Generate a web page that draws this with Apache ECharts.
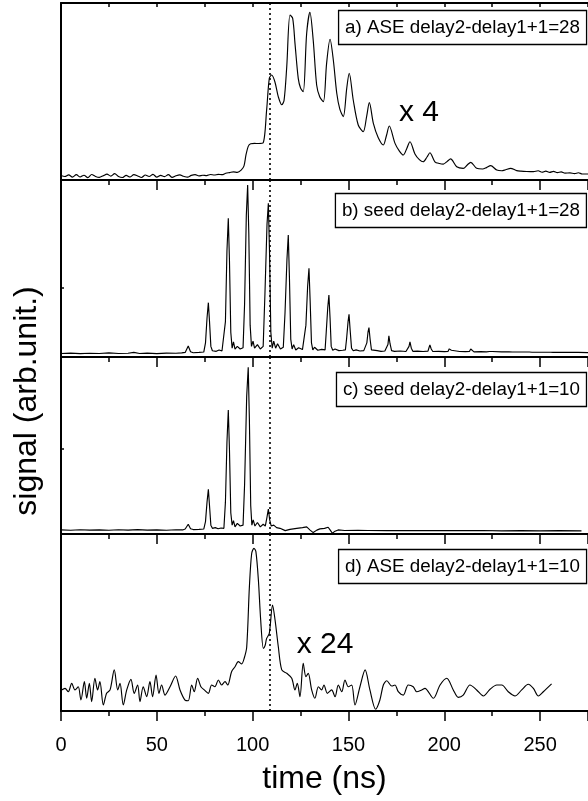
<!DOCTYPE html>
<html><head><meta charset="utf-8">
<script src="https://cdn.jsdelivr.net/npm/echarts@6/dist/echarts.min.js"></script>
<style>html,body{margin:0;padding:0;background:#fff}#c{width:588px;height:801px}</style>
</head><body><div id="c"></div>
<script>
// ---- data (time in ns, signal in % of panel height) ----
const xTickLabels = [0, 50, 100, 150, 200, 250];
const panelLabels = ['a) ASE delay2-delay1+1=28', 'b) seed delay2-delay1+1=28', 'c) seed delay2-delay1+1=10', 'd) ASE delay2-delay1+1=10'];
const gainLabels = ['x 4', 'x 24'];
const markerTime = 108.7;
const xLabel = 'time (ns)';
const yLabel = 'signal (arb.unit.)';

const aseA_t = [0,2,4,6,8,10,12,14,16,18,20,22,24,26,28,30,32,34,36,38,40,42,44,46,48,50,52,54,56,58,60,62,64,66,68,70,72,74,76,78,80,82,84,86,88,90,92,94,95.5,
  96.5,97.7,99,101,103,105.5,107.3,108.7,109.9,111.6,113.4,115.2,116.4,117.8,119.5,120.9,122.1,123.8,125,126.4,128.2,129.9,131.6,133.4,135,136.9,138.6,140.4,142.1,143.9,145.5,147.3,149.1,150.4,152.5,155.1,157.7,159.5,160.9,163,165.5,168.2,169.8,171.3,174.3,176.5,178.6,180.5,182.1,184.7,187,189,191,192.5,195.1,197.5,199.5,201.5,203.3,206.5,209.9,212,213.8,216.9,220,222,224.2,227.4,230,232,234.6,237.8,240,243,246.5,249,251,253,255,257,259,261,263,265.6,268,270,272,275];
const aseA_v = [2.5,2.0,2.9,1.6,3.0,1.7,2.7,1.3,3.1,2.0,1.5,2.4,3.3,2.2,3.6,2.0,1.4,2.6,1.7,3.0,2.3,1.4,2.8,2.0,3.2,1.6,2.6,1.9,3.0,1.5,2.4,2.9,2.1,1.6,2.6,3.0,2.3,2.7,2.5,3.1,2.8,3.2,3.0,3.8,4.2,4.6,4.3,5.6,8,
  14,19,20.5,20.7,20.6,21,39.5,57.4,59.3,55.5,47,42.5,45,64,93.2,91.3,77.2,57.4,52,49.9,82.9,94.7,79.1,53.7,47,44.2,65.9,79.5,67.8,49,40,35.8,51.8,60.3,45.2,31.1,27.3,36,43.7,32,24,19.8,25,30.5,20.7,16.5,14.1,18,21.6,14.7,11.5,10.3,13,15.4,10.3,9.3,9,10.5,11.9,7.5,6.6,8.5,10,6.6,6.2,7,8.1,5.6,5.2,5.8,6.6,5.3,5.0,4.8,4.7,5.2,4.4,5.0,4.3,4.9,4.2,4.6,3.9,4.0,3.6,4.1,3.4,3.4];

const seedB_t = [0,5,10,15,20,25,30,35,38,41,45,50,55,60,63,64.8,66.4,67.6,69,72,74.5,
  75.4,76.2,76.9,77.5,78.2,79,80,81,82.5,84,85,
  85.8,86.6,87.3,87.9,88.6,89.3,90,90.8,92,93.5,95,
  95.8,96.7,97.4,98,98.7,99.4,100.2,101,102.5,104,105.5,
  106.4,107.5,108.2,108.8,109.5,110.2,111,112,113,114.5,116,
  116.9,117.9,118.6,119.2,119.9,120.6,121.4,122.5,124,126,127,
  127.8,128.7,129.4,130,130.7,131.4,132.3,134,136,137.8,
  138.4,139.2,139.8,140.4,141,141.8,143,145,147,148.4,
  149,149.8,150.3,150.9,151.6,152.5,154,156,158,159,
  159.6,160.2,160.7,161.3,162,163,165,167,169,170,
  170.6,171.1,171.7,172.5,174,177,180,181,
  181.6,182.1,182.8,183.6,186,189,191.5,
  192.1,192.5,193.2,194,197,200,202,
  202.6,203,203.7,204.5,208,211,213.2,
  213.8,214.5,215.5,219,222,223.6,
  224.2,225,226,230,233.8,234.6,235.5,240,244.4,245,245.8,250,255.5,256,256.7,261,266,266.4,267,270,275];
const seedB_v = [2.0,2.2,1.9,2.1,2.0,2.3,2.0,2.1,2.6,2.0,2.2,1.9,2.2,2.1,2.3,2.6,6.2,3.0,2.4,2.6,2.8,
  8,22,30.7,20,6,3.5,4.5,3.2,4.0,3.4,3.8,
  20,60,78.4,55,14,5,8.5,4.5,6,4.5,5.2,
  30,80,97.2,70,18,6,9,5,7,4.5,6,
  35,75,86.8,60,14,5,9,5,7.5,4.5,5.5,
  25,55,68.9,45,10,4.5,7,4,5.2,4.2,4.6,
  18,40,50.1,32,8,4,5.5,3.8,4.3,4,
  14,28,35,22,6,3.8,4.5,3.6,3.8,4,
  10,20,24.1,15,5,3.5,4,3.4,3.6,3.8,
  8,14,16.6,10,4,3.2,3.6,3.2,3.4,3.6,
  7,11.9,7.5,3.6,3.2,3.4,3.1,3.4,
  6,8.6,5,3.2,3.3,3.1,3.3,
  5.5,6.8,4.5,3.1,3.2,3.0,3.2,
  4.6,5.5,3.8,3.0,3.1,3.0,3.2,
  4.5,3.4,2.9,3.0,2.9,3.1,
  4.0,3.1,2.8,2.9,2.9,3.4,2.8,2.8,2.8,3.1,2.7,2.7,2.7,2.9,2.6,2.6,2.6,2.8,2.5,2.6,2.5];

const seedC_t = [0,5,10,15,20,25,30,35,40,45,50,55,60,63.5,64.8,66.4,67.6,69,72,74.5,
  75.4,76.2,76.9,77.5,78.2,79,80.5,82,83.5,85,
  85.8,86.6,87.3,87.9,88.6,89.3,90,90.8,92,93.5,95,
  95.8,96.9,97.7,98.3,99,99.6,100.3,101.2,102.5,104,105.5,106.6,
  107.4,108.2,108.9,109.7,111,112.5,114.3,117,119.5,123,126,128.2,130,131.6,133.5,135.1,137.5,139.4,140.5,141.6,143,144.6,148,155,160,170,180,190,200,210,220,230,240,250,260,271.6];
const seedC_v = [2.3,2.1,2.4,2.2,2.3,2.1,2.4,2.2,2.5,2.2,2.3,2.1,2.4,2.3,2.8,5.5,3.0,2.5,2.6,2.8,
  7,18,25.3,16,5,3.2,3.6,3.0,3.4,3.2,
  18,52,70,48,12,5,7.5,4,6,4.5,5,
  28,78,94.2,65,16,5,8,4.5,6.5,4,5.5,4.5,
  9,14.1,8,4.5,5,3.6,3.2,1.9,2.6,3.2,3.6,4,2.2,0.8,2.2,2.9,3.2,3.8,2.2,0.4,1.6,2.3,2.0,2.1,2.0,1.9,2.0,1.9,2.0,1.9,2.0,1.8,1.9,1.8,1.9,1.8];

const aseD_t = [0.3,2.1,3.8,5.6,7.3,9.0,10.4,12.2,13.4,14.8,16,17.7,19.1,20.3,22.1,23.8,25.6,27.8,29.6,30.8,32.5,34.3,36.5,38.2,40,41.2,42.9,44.7,46.4,47.8,49.6,51.1,52.5,54.3,56.9,59.8,62.1,64.7,66.4,68.2,69.5,71.3,73,74.8,76.9,78.6,80.3,82.1,83.8,85.6,87,89,90.8,92.5,94.3,95.6,96.9,98.3,99.5,100.7,101.7,103,104.2,105.6,106.5,107.3,108.7,110.4,111.7,113.4,115.2,117.8,120.4,122.1,123.3,124.7,126.4,127.8,129,130.8,132.5,134.3,136,137.2,139,141.2,143,144.7,146.5,148.2,149.9,151.7,153.4,156,158.7,161.2,164.2,166.4,168.2,170,172.6,174.3,176,178.6,181.2,183.8,185.6,188.2,189.9,194.3,197.8,201.3,204.7,207.3,209.9,213.4,216.9,220.4,223.9,227.4,230,233.4,236.9,240.4,243.8,246.5,249.1,251.7,256];
const aseD_v = [11.9,12.8,10.9,15.6,11.9,13.7,6.2,16.6,7.2,15.6,5.3,18.5,11.9,16.6,3.4,10,11.9,23.2,11.9,15.6,3.4,11.9,17.9,10,14.7,5.3,13.7,8.1,16.6,8.1,20.3,10,14.7,9,13.7,19.8,11.9,6.2,5.8,14.7,10.9,18.5,13.7,11.9,10,14.7,13.7,17.5,14.7,16.6,14.7,22.2,25,27.9,26.6,29.8,36,70,89,91.9,90,74,51.4,35.4,37,41,43.9,59.9,51.4,36.3,23.2,21.3,18.5,11.9,15.6,8.1,26.9,19.4,21.3,11.9,7.2,13.7,11.9,14.7,10,11.9,8.1,14.7,10.9,17.5,13.7,14.7,3.4,13.7,23.2,11.9,1,6.2,14.7,17.1,14.1,14.7,10.9,9,14.7,13.7,10.9,11.9,12.8,7.2,14.7,18.5,11.9,7.7,9,14.7,11.9,8.5,12.3,14.7,14.7,10.9,8.5,11.9,15.1,12.8,8.5,10.9,15.3];

// ---- layout ----
const chart = echarts.init(document.getElementById('c'), null, {renderer: 'canvas'});
const FONT = 'Liberation Sans';
const tops = [3, 180, 357, 534];
const grids = tops.map(t => ({left: 61, top: t, width: 527, height: 177}));
const pair = (t, v) => t.map((x, i) => [x, v[i]]);
const seriesData = [pair(aseA_t, aseA_v), pair(seedB_t, seedB_v), pair(seedC_t, seedC_v), pair(aseD_t, aseD_v)];
const smoothing = [0.3, false, false, 0.3];
const yTicks = [[], [39], [48], []];
const boxTops = [10, 193, 372, 549];

const xAxes = tops.map((t, i) => ({
  gridIndex: i, type: 'value', min: 0, max: 275, interval: 50,
  axisLine: {show: true, onZero: false, lineStyle: {color: '#000', width: 2}},
  axisTick: {show: true, inside: false, length: 10, lineStyle: {color: '#000', width: 1.5}},
  minorTick: {show: true, splitNumber: 2, length: 5, lineStyle: {color: '#000', width: 1.5}},
  splitLine: {show: false}, minorSplitLine: {show: false},
  axisLabel: {show: i === 3, showMaxLabel: false, color: '#000', fontSize: 20, fontFamily: FONT, margin: 24,
    formatter: v => xTickLabels.includes(v) ? String(v) : ''},
  name: i === 3 ? xLabel : '', nameLocation: 'middle', nameGap: 52,
  nameTextStyle: {color: '#000', fontSize: 32, fontFamily: FONT}
}));
xAxes.push({
  gridIndex: 0, type: 'value', position: 'top', min: 0, max: 275, interval: 50,
  axisLine: {show: true, onZero: false, lineStyle: {color: '#000', width: 2}},
  axisTick: {show: true, inside: true, length: 4, lineStyle: {color: '#000', width: 1.5}},
  minorTick: {show: true, splitNumber: 2, length: 4, lineStyle: {color: '#000', width: 1.5}},
  splitLine: {show: false}, axisLabel: {show: false}
});
const yAxes = tops.map((t, i) => ({
  gridIndex: i, type: 'value', min: 0, max: 100,
  axisLine: {show: true, onZero: false, lineStyle: {color: '#000', width: 2}},
  axisTick: {show: yTicks[i].length > 0, inside: true, length: 3, customValues: yTicks[i], lineStyle: {color: '#000', width: 1.5}},
  axisLabel: {show: false}, splitLine: {show: false}
}));

const series = seriesData.map((d, i) => ({
  type: 'line', xAxisIndex: i, yAxisIndex: i, data: d, showSymbol: false, symbol: 'none',
  smooth: smoothing[i], lineStyle: {color: '#000', width: 1.15}, animation: false, silent: true, z: 3,
  markLine: {silent: true, symbol: 'none', label: {show: false}, animation: false,
    lineStyle: {color: '#000', type: [2, 3], width: 1.6}, data: [{xAxis: markerTime}]}
}));

const titles = panelLabels.map((t, i) => ({
  text: t, right: 1, top: boxTops[i], padding: [6, 7, 5, 7], borderColor: '#000', borderWidth: 1.3,
  textStyle: {fontSize: 18.8, fontWeight: 'normal', color: '#000', fontFamily: FONT, lineHeight: 24}
}));

chart.setOption({
  animation: false,
  backgroundColor: '#fff',
  title: titles,
  grid: grids,
  xAxis: xAxes,
  yAxis: yAxes,
  series: series,
  graphic: [
    {type: 'text', x: 27, y: 401, rotation: Math.PI / 2,
      style: {text: yLabel, fill: '#000', font: '32px "' + FONT + '"', align: 'center', verticalAlign: 'middle'}},
    {type: 'text', x: 419, y: 113,
      style: {text: gainLabels[0], fill: '#000', font: '30px "' + FONT + '"', align: 'center', verticalAlign: 'middle'}},
    {type: 'text', x: 325, y: 645,
      style: {text: gainLabels[1], fill: '#000', font: '30px "' + FONT + '"', align: 'center', verticalAlign: 'middle'}}
  ]
});
</script></body></html>
